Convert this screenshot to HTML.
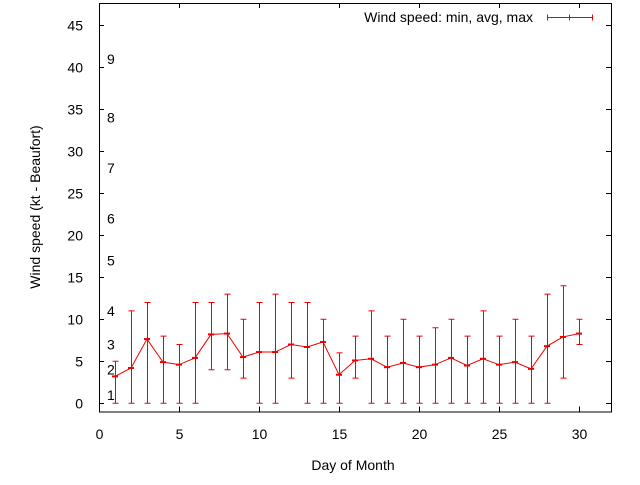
<!DOCTYPE html>
<html><head><meta charset="utf-8"><style>
body{margin:0;background:#fff}
svg text{font-family:"Liberation Sans",sans-serif;font-size:14px;fill:#000}
</style></head><body>
<svg id="chart" width="640" height="480" xmlns="http://www.w3.org/2000/svg">
<rect x="0" y="0" width="640" height="480" fill="#fff"/>
<g id="axes"></g>
<g id="marks"></g>
<text x="353" y="470" text-anchor="middle">Day of Month</text>
<text transform="translate(40,207) rotate(-90)" text-anchor="middle">Wind speed (kt - Beaufort)</text>
<g>
<text x="533" y="22" text-anchor="end">Wind speed: min, avg, max</text>
<path d="M547.5 17.5H592.5M547.5 14.5V20.5M592.5 14.5V20.5M569.5 14.5V20.5" stroke="#e00" fill="none"/>
</g>
</svg>
<script>
const days=[1,2,3,4,5,6,7,8,9,10,11,12,13,14,15,16,17,18,19,20,21,22,23,24,25,26,27,28,29,30];
const avgVals=[3.2,4.2,7.65,4.9,4.6,5.4,8.2,8.3,5.5,6.1,6.1,7.0,6.7,7.3,3.4,5.1,5.3,4.3,4.8,4.3,4.6,5.4,4.5,5.3,4.6,4.9,4.1,6.8,7.9,8.3];
const minVals=[0,0,0,0,0,0,4,4,3,0,0,3,0,0,0,3,0,0,0,0,0,0,0,0,0,0,0,0,3,7];
const maxVals=[5,11,12,8,7,12,12,13,10,12,13,12,12,10,6,8,11,8,10,8,9,10,8,11,8,10,8,13,14,10];
const xTicks=[0,5,10,15,20,25,30];
const yTicks=[0,5,10,15,20,25,30,35,40,45];
const beaufortLevels=[1,4,7,11,17,22,28,34,41];
const beaufortLabels=["1","2","3","4","5","6","7","8","9"];
const X0=99,XS=16,Y0=403.3,YS=8.4;
const L=99,R=611,T=3,B=411.5;
function sx(v){return X0+v*XS;}
function sy(v){return Y0-v*YS;}
const NS="http://www.w3.org/2000/svg";
function mk(tag,attrs,parent){const e=document.createElementNS(NS,tag);for(const k in attrs)e.setAttribute(k,attrs[k]);parent.appendChild(e);return e;}
const ax=document.getElementById('axes'),mg=document.getElementById('marks');
const frame=mk('rect',{x:L+0.5,y:T+0.5,width:R-L,height:B-T,fill:'none',stroke:'#000'},ax);


xTicks.forEach(t=>{const x=Math.round(sx(t))+0.5;
 const tk=mk('path',{d:`M${x} ${B}V${B-5}M${x} ${T}V${T+5}`,stroke:'#000'},ax);
 
 
 const tx=mk('text',{x:x,y:439,'text-anchor':'middle'},ax);tx.textContent=t;
 
 
});
yTicks.forEach(t=>{const y=Math.round(sy(t))+0.5;
 const tk=mk('path',{d:`M${L} ${y}H${L+5}M${R} ${y}H${R-5}`,stroke:'#000'},ax);
 
 
 const tx=mk('text',{x:83,y:y+5,'text-anchor':'end'},ax);tx.textContent=t;
 
 
});
beaufortLevels.forEach((v,i)=>{
 const tx=mk('text',{x:107,y:sy(v)+5},ax);tx.textContent=beaufortLabels[i];
 
 
});
days.forEach((d,i)=>{const x=Math.round(sx(d))+0.5,y1=sy(minVals[i]),y2=sy(maxVals[i]);
 const b=mk('path',{d:`M${x} ${y1}V${y2}M${x-3} ${y1}H${x+3}M${x-3} ${y2}H${x+3}`,stroke:'#e00',fill:'none'},mg);
 
 
});
const line=mk('polyline',{points:days.map((d,i)=>sx(d)+','+sy(avgVals[i])).join(' '),stroke:'#e00',fill:'none'},mg);


days.forEach((d,i)=>{const x=sx(d),y=sy(avgVals[i]);
 const p=mk('path',{d:`M${x-3} ${y}H${x+3}`,stroke:'#e00','stroke-width':2},mg);
 
 
});
</script>
</body></html>
